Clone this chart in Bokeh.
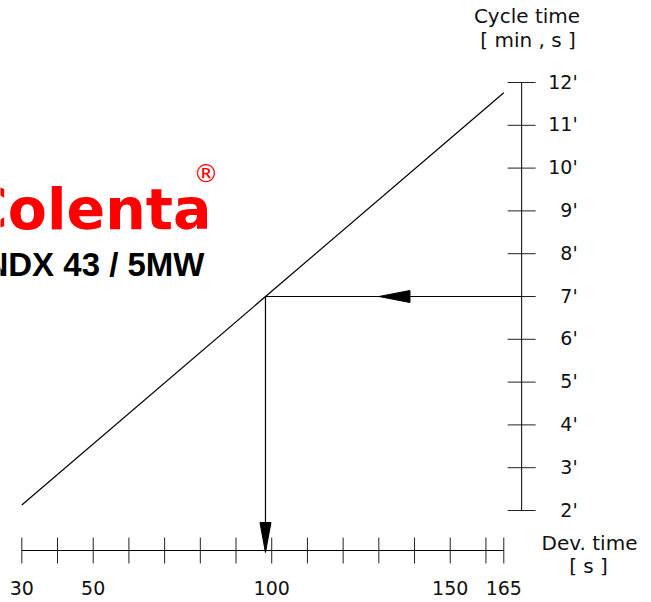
from bokeh.plotting import figure
from bokeh.models import Label, Range1d
from bokeh.core.properties import value
from bokeh.embed import file_html
from bokeh.resources import INLINE

# ---------------- data ----------------
dev_ticks = [30, 40, 50, 60, 70, 80, 90, 100, 110, 120, 130, 140, 150, 160, 165]
dev_label_values = [30, 50, 100, 150, 165]
dev_label_texts = ["30", "50", "100", "150", "165"]

cycle_ticks = [2, 3, 4, 5, 6, 7, 8, 9, 10, 11, 12]
cycle_label_texts = ["2'", "3'", "4'", "5'", "6'", "7'", "8'", "9'", "10'", "11'", "12'"]

# nomogram line (dev time s -> cycle time min)
line_dev = [30, 165]
line_cycle = [2.13, 11.76]

# worked example
example_cycle = 7
example_dev = 98.25

# ---------------- layout / style ----------------
W, H = 651, 602
X0, X1 = 24.034, 206.37
Y0, Y1 = -0.1495, 13.916
px_x = W / (X1 - X0)
px_y = H / (Y1 - Y0)

AXIS_V_X = 170.0            # location of the cycle-time scale
AXIS_H_Y = 2 - 40 / px_y    # location of the dev-time scale

FONT = "DejaVu Sans"
INK = "#111111"

p = figure(width=W, height=H, output_backend="svg", toolbar_location=None,
           x_axis_type=None, y_axis_type=None, min_border=0,
           x_range=Range1d(X0, X1), y_range=Range1d(Y0, Y1))
p.outline_line_color = None
p.grid.visible = False
p.background_fill_color = "white"
p.border_fill_color = "white"

# main line
p.line(line_dev, line_cycle, line_color="black", line_width=1.2)

# horizontal scale (dev time)
p.segment(x0=[dev_ticks[0]], y0=[AXIS_H_Y], x1=[dev_ticks[-1]], y1=[AXIS_H_Y],
          line_color="black", line_width=1)
tick_h = 13 / px_y
p.segment(x0=dev_ticks, x1=dev_ticks,
          y0=[AXIS_H_Y - tick_h] * len(dev_ticks), y1=[AXIS_H_Y + tick_h] * len(dev_ticks),
          line_color="#222222", line_width=1)
p.text(x=dev_label_values, y=[AXIS_H_Y] * len(dev_label_values), text=dev_label_texts,
       text_font=value(FONT), text_font_size="19px", text_color=INK,
       text_align="center", text_baseline="alphabetic", y_offset=37)

# vertical scale (cycle time)
p.segment(x0=[AXIS_V_X], y0=[cycle_ticks[0]], x1=[AXIS_V_X], y1=[cycle_ticks[-1]],
          line_color="black", line_width=1)
tick_w = 14 / px_x
p.segment(x0=[AXIS_V_X - tick_w] * len(cycle_ticks), x1=[AXIS_V_X + tick_w] * len(cycle_ticks),
          y0=cycle_ticks, y1=cycle_ticks, line_color="#222222", line_width=1)
p.text(x=[AXIS_V_X] * len(cycle_ticks), y=cycle_ticks, text=cycle_label_texts,
       text_font=value(FONT), text_font_size="19px", text_color=INK,
       text_align="right", text_baseline="alphabetic", x_offset=56, y_offset=-1)

# example guide lines
p.segment(x0=[AXIS_V_X], y0=[example_cycle], x1=[example_dev], y1=[example_cycle],
          line_color="black", line_width=1.2)
p.segment(x0=[example_dev], y0=[example_cycle], x1=[example_dev], y1=[AXIS_H_Y],
          line_color="black", line_width=1.2)

# arrow heads
HEAD_LEN = 31
HEAD_HALF = 6
frac = 0.557
tip_x = AXIS_V_X - frac * (AXIS_V_X - example_dev)
p.patch([tip_x, tip_x + HEAD_LEN / px_x, tip_x + HEAD_LEN / px_x],
        [example_cycle, example_cycle + HEAD_HALF / px_y, example_cycle - HEAD_HALF / px_y],
        fill_color="black", line_color="black", line_width=1)
tip_y = AXIS_H_Y - 2 / px_y
p.patch([example_dev, example_dev - 5.5 / px_x, example_dev + 5.5 / px_x],
        [tip_y, tip_y + 30 / px_y, tip_y + 30 / px_y],
        fill_color="black", line_color="black", line_width=1)

# titles (screen units: x from left, y from bottom)
def lab(txt, x, y, size, align="center", font=FONT, color=INK, style="normal", baseline="alphabetic"):
    p.add_layout(Label(x=x, y=y, x_units="screen", y_units="screen", text=txt,
                       text_font=font, text_font_size=size, text_color=color,
                       text_align=align, text_baseline=baseline, text_font_style=style))

lab("Cycle time", 526.5, 587, "20px")
lab("[ min , s ]", 527.5, 563, "20px")
lab("Dev. time", 589, 60, "20px")
lab("[ s ]", 588, 37, "20px")

# logo
lab("Colenta", 211, 394, "57px", align="right", color="#ff0000", style="bold")
lab("®", 205.5, 429, "25px", color="#ff0000", baseline="middle")
lab("NDX 43 / 5MW", 204, 338.5, "33px", align="right", font="Liberation Sans",
    color="black", style="bold")

open("out.html", "w").write(file_html(p, INLINE))
